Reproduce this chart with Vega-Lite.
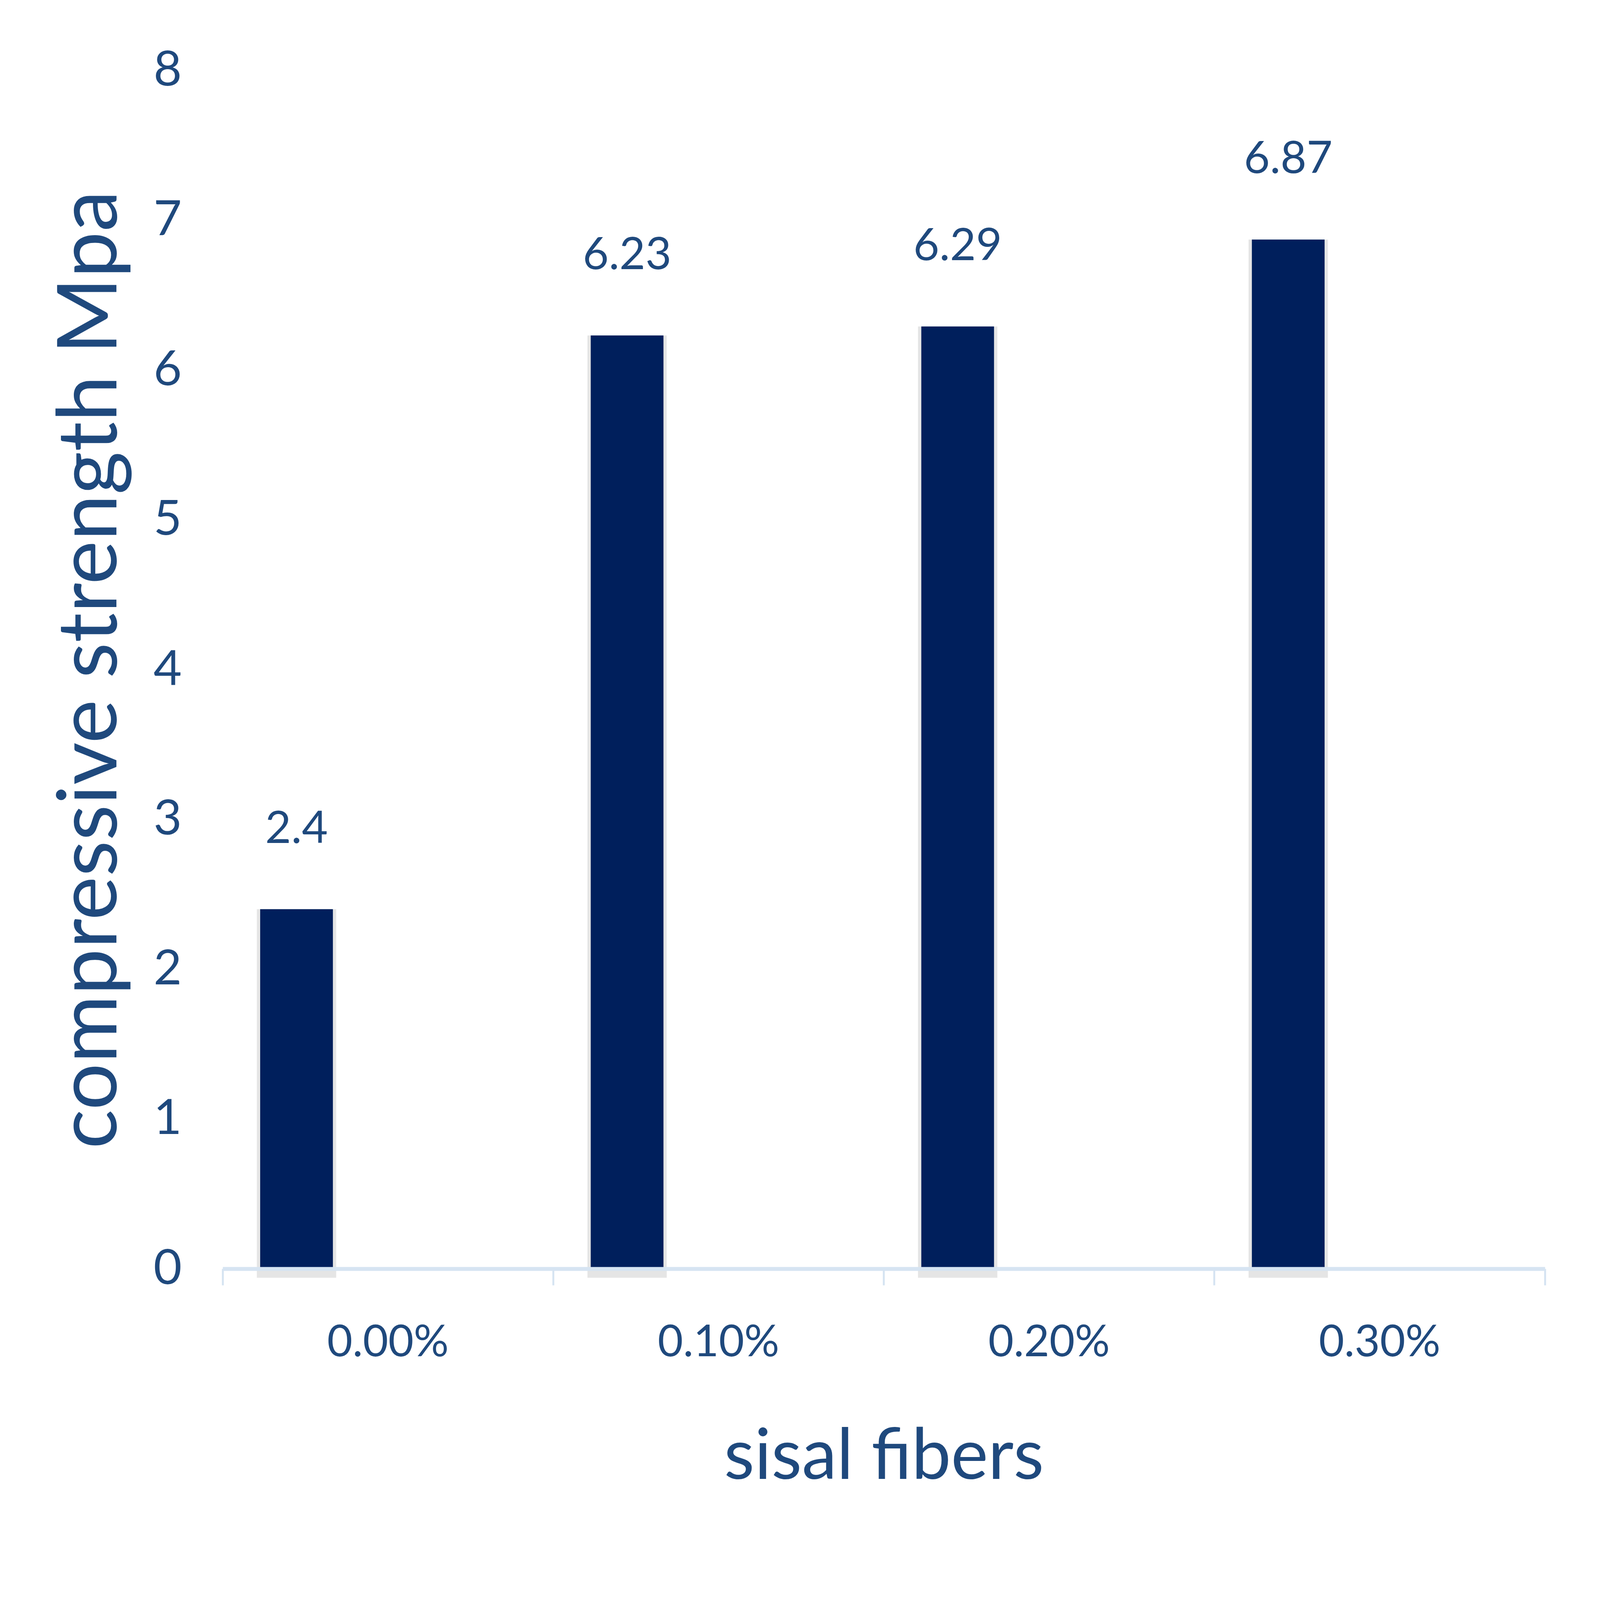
{
  "$schema": "https://vega.github.io/schema/vega-lite/v6.json",
  "autosize": {"type": "none"},
  "width": 3385,
  "height": 3068,
  "padding": {"left": 570, "top": 180, "right": 141, "bottom": 848},
  "background": "#ffffff",
  "data": {
    "values": [
      {"fibers": "0.00%", "strength": 2.4},
      {"fibers": "0.10%", "strength": 6.23},
      {"fibers": "0.20%", "strength": 6.29},
      {"fibers": "0.30%", "strength": 6.87}
    ]
  },
  "encoding": {
    "x": {
      "field": "fibers",
      "type": "nominal",
      "sort": null,
      "scale": {"paddingInner": 0, "paddingOuter": 0},
      "title": "sisal fibers",
      "axis": {
        "labelAngle": 0,
        "bandPosition": 1,
        "tickExtra": true,
        "domainColor": "#D6E4F2",
        "domainWidth": 10,
        "tickColor": "#D6E4F2",
        "tickWidth": 5,
        "tickSize": 42,
        "labelFontSize": 112,
        "labelPadding": 93,
        "titleFontSize": 180,
        "titlePadding": 195,
        "zindex": 1
      }
    }
  },
  "layer": [
    {
      "mark": {"type": "bar", "color": "#000000", "opacity": 0.1, "width": {"band": 0.24}, "xOffset": -234},
      "encoding": {
        "y": {"field": "strength", "type": "quantitative"},
        "y2": {"datum": -0.06}
      }
    },
    {
      "mark": {"type": "bar", "color": "#001F5C", "width": {"band": 0.22}, "xOffset": -234},
      "encoding": {
        "y": {
          "field": "strength",
          "type": "quantitative",
          "scale": {"domain": [0, 8], "nice": false},
          "title": "compressive strength Mpa",
          "axis": {
            "values": [0, 1, 2, 3, 4, 5, 6, 7, 8],
            "format": "d",
            "domain": false,
            "ticks": false,
            "tickSize": 0,
            "grid": false,
            "labelFontSize": 125,
            "labelPadding": 105,
            "titleFontSize": 212,
            "titlePadding": 50
          }
        }
      }
    },
    {
      "mark": {"type": "text", "color": "#1F497D", "font": "Lato", "fontSize": 115, "baseline": "alphabetic", "dy": -170, "xOffset": -234},
      "encoding": {
        "y": {"field": "strength", "type": "quantitative"},
        "text": {"field": "strength", "type": "quantitative"}
      }
    }
  ],
  "config": {
    "view": {"stroke": null},
    "axis": {
      "labelFont": "Lato",
      "labelLimit": 0,
      "labelColor": "#1F497D",
      "titleFont": "Lato",
      "titleLimit": 0,
      "titleFontWeight": "normal",
      "titleColor": "#1F497D",
      "grid": false
    }
  }
}
